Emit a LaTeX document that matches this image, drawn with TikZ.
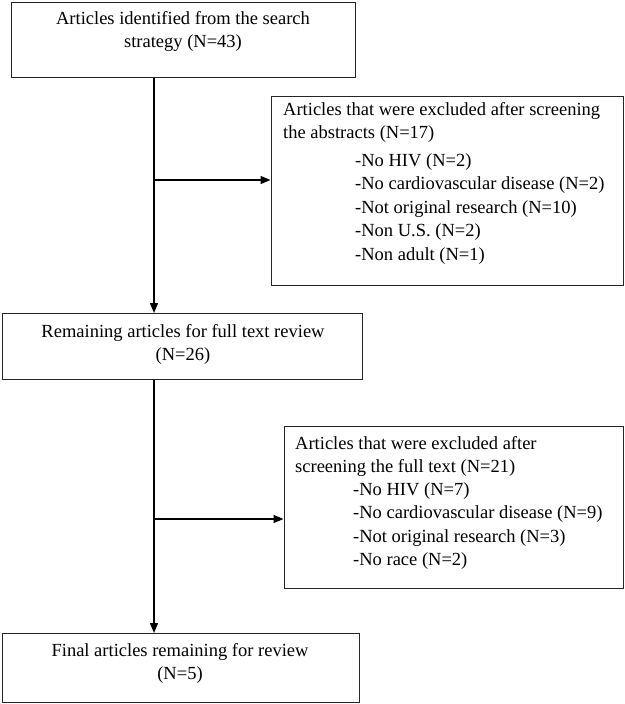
\documentclass[tikz,border=0pt]{standalone}
\usepackage{fontspec}
\setmainfont{Liberation Serif}
\usetikzlibrary{arrows.meta}
\begin{document}
\begin{tikzpicture}[x=1pt,y=1pt,
  box/.style={draw=black!85,line width=1.4pt,rectangle,inner sep=0pt,anchor=north west},
  txt/.style={inner sep=0pt,font=\fontsize{18.5}{23.6}\selectfont},
  arr/.style={line width=1.4pt,-{Triangle[length=10pt,width=8pt]}}]
\useasboundingbox (0,0) rectangle (624,-704);
% boxes
\node[box,minimum width=344pt,minimum height=75pt] (b1) at (11,-2) {};
\node[box,minimum width=352pt,minimum height=189pt] (b3) at (270.5,-96) {};
\node[box,minimum width=360pt,minimum height=66pt] (b2) at (2,-313) {};
\node[box,minimum width=339pt,minimum height=162pt] (b4) at (283.5,-426) {};
\node[box,minimum width=357pt,minimum height=69pt] (b5) at (2,-633) {};
% texts
\node[txt,align=center,anchor=north] (t1) at (183,-11) {Articles identified from the search\\strategy (N=43)};
\node[txt,align=left,anchor=north west] (t3) at (283,-102) {Articles that were excluded after screening\\the abstracts (N=17)};
\node[txt,align=left,anchor=north west] (t3b) at (355,-153) {-No HIV (N=2)\\-No cardiovascular disease (N=2)\\-Not original research (N=10)\\-Non U.S. (N=2)\\-Non adult (N=1)};
\node[txt,align=center,anchor=north] (t2) at (183,-324) {Remaining articles for full text review\\(N=26)};
\node[txt,align=left,anchor=north west] (t4) at (295,-436) {Articles that were excluded after\\screening the full text (N=21)};
\node[txt,align=left,anchor=north west] (t4b) at (353,-482) {-No HIV (N=7)\\-No cardiovascular disease (N=9)\\-Not original research (N=3)\\-No race (N=2)};
\node[txt,align=center,anchor=north] (t5) at (180,-643) {Final articles remaining for review\\(N=5)};
% connectors
\coordinate (trunk) at (154,0);
\coordinate (j1) at (154,-180);
\coordinate (j2) at (154,-519);
\draw[arr] (b1.south -| trunk) -- (b2.north -| trunk);
\draw[arr] (b2.south -| trunk) -- (b5.north -| trunk);
\draw[arr] (j1) -- (j1 -| b3.west);
\draw[arr] (j2) -- (j2 -| b4.west);
\end{tikzpicture}
\end{document}
